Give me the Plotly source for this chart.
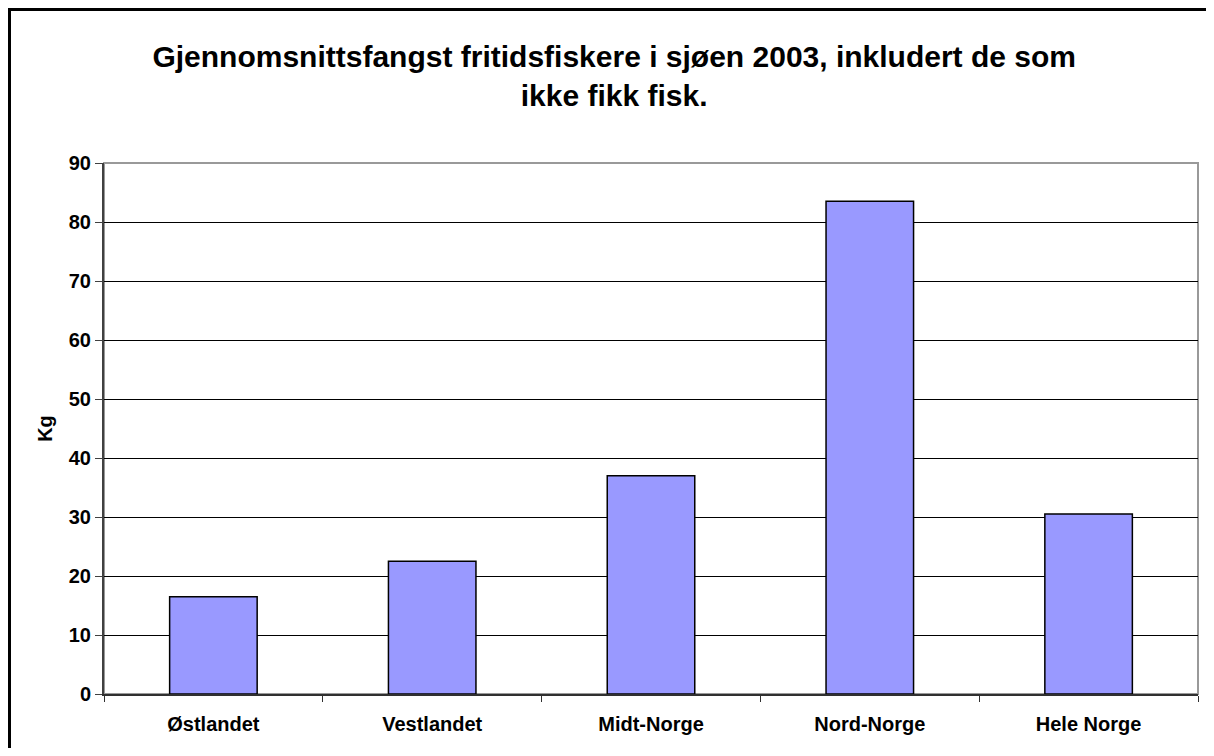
import plotly.graph_objects as go

regions = ['Østlandet', 'Vestlandet', 'Midt-Norge', 'Nord-Norge', 'Hele Norge']
avg_catch_kg = [16.5, 22.5, 37.0, 83.5, 30.5]

title_text = 'Gjennomsnittsfangst fritidsfiskere i sjøen 2003, inkludert de som<br>ikke fikk fisk.'
font_family = 'Liberation Sans, Arial, sans-serif'

# page has an 8px body margin, so the figure is sized to fit without scrollbars
W, H = 1198, 740
ML, MR, MT, MB = 96, 8, 155, 54

fig = go.Figure()
fig.add_trace(go.Bar(
    x=regions, y=avg_catch_kg,
    marker=dict(color='#9999FF', line=dict(color='black', width=1.5)),
))

fig.update_layout(
    width=W, height=H,
    margin=dict(l=ML, r=MR, t=MT, b=MB),
    paper_bgcolor='white', plot_bgcolor='white',
    bargap=0.6,
    showlegend=False,
    font=dict(family=font_family, color='black', size=20, weight='bold'),
    title=dict(text=title_text, x=0.506, xanchor='center', xref='container',
               y=1 - 59 / H, yanchor='top', yref='container',
               font=dict(size=30, family=font_family, weight='bold', color='black')),
)

fig.update_yaxes(
    range=[0, 90], dtick=10, tickformat='d',
    showgrid=True, gridcolor='black', gridwidth=1,
    zeroline=False,
    showline=True, linecolor='#404040', linewidth=2,
    ticks='outside', ticklen=7, tickcolor='#404040',
    title=dict(text='Kg', standoff=11, font=dict(size=20, weight='bold')),
    tickfont=dict(size=20, weight='bold'),
)
fig.update_xaxes(
    showline=True, linecolor='#303030', linewidth=2,
    ticks='outside', ticklen=6, tickson='boundaries', tickcolor='#303030',
    tickfont=dict(size=20, weight='bold'),
    ticklabelstandoff=11,
)

# grey frame around plot area
fig.add_shape(type='rect', xref='paper', yref='paper', x0=0, x1=1, y0=0, y1=1,
              line=dict(color='#999999', width=2), layer='below')

# outer chart border: only its top and left edges, as one open path
pw, ph = W - ML - MR, H - MT - MB
bx = (1.5 - ML) / pw
by = (H - MB - 1.5) / ph
x_end = (W - ML) / pw
y_end = -MB / ph
fig.add_shape(type='path', xref='paper', yref='paper',
              path=f'M {bx},{y_end} L {bx},{by} L {x_end},{by}',
              line=dict(color='black', width=3), fillcolor='rgba(0,0,0,0)')

fig.write_html('out.html')
